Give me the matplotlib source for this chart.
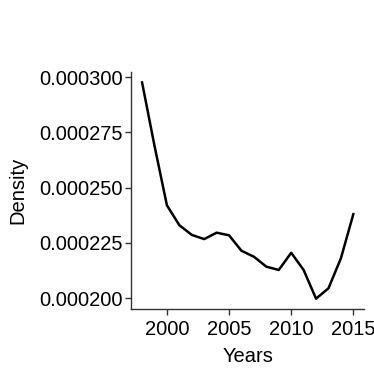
#!/bin/env python3
'''
Density by year, single line
'''
import matplotlib
matplotlib.use('Agg')
import matplotlib.pyplot as plt

years = [1998, 1999, 2000, 2001, 2002, 2003, 2004, 2005, 2006,
         2007, 2008, 2009, 2010, 2011, 2012, 2013, 2014, 2015]
density = [0.0002977, 0.000269, 0.000242, 0.000233, 0.0002286, 0.0002267,
           0.0002296, 0.0002284, 0.0002214, 0.0002187, 0.0002142, 0.0002127,
           0.0002205, 0.0002127, 0.0001997, 0.0002044, 0.000218, 0.000238]
xticks = [2000, 2005, 2010, 2015]
yticks = [0.000200, 0.000225, 0.000250, 0.000275, 0.000300]

plt.rcParams['font.family'] = ['Liberation Sans', 'DejaVu Sans']

fig = plt.figure(figsize=(3.74, 3.74), dpi=100)
ax = fig.add_axes([0.3516, 0.1725, 0.6214, 0.6361])
ax.plot(years, density, color='black', linewidth=1.8)

span = max(years) - min(years)
ax.set_xlim(min(years) - 0.05 * span, max(years) + 0.05 * span)
yspan = max(density) - min(density)
ax.set_ylim(min(density) - 0.05 * yspan, max(density) + 0.05 * yspan)

ax.set_xticks(xticks)
ax.set_xticklabels([str(x) for x in xticks])
ax.set_yticks(yticks)
ax.set_yticklabels(['%.6f' % v for v in yticks])

for s in ['top', 'right']:
    ax.spines[s].set_visible(False)
for s in ['left', 'bottom']:
    ax.spines[s].set_color('#333333')
    ax.spines[s].set_linewidth(1.0)
ax.tick_params(colors='#333333', width=1.0, length=4, labelsize=14.5,
               labelcolor='black', pad=2)
ax.tick_params(axis='x', pad=3.5)

ax.set_xlabel('Years', fontsize=14.5, labelpad=6)
ax.set_ylabel('Density', fontsize=14.5, labelpad=9)

fig.savefig('out.png', dpi=100)
